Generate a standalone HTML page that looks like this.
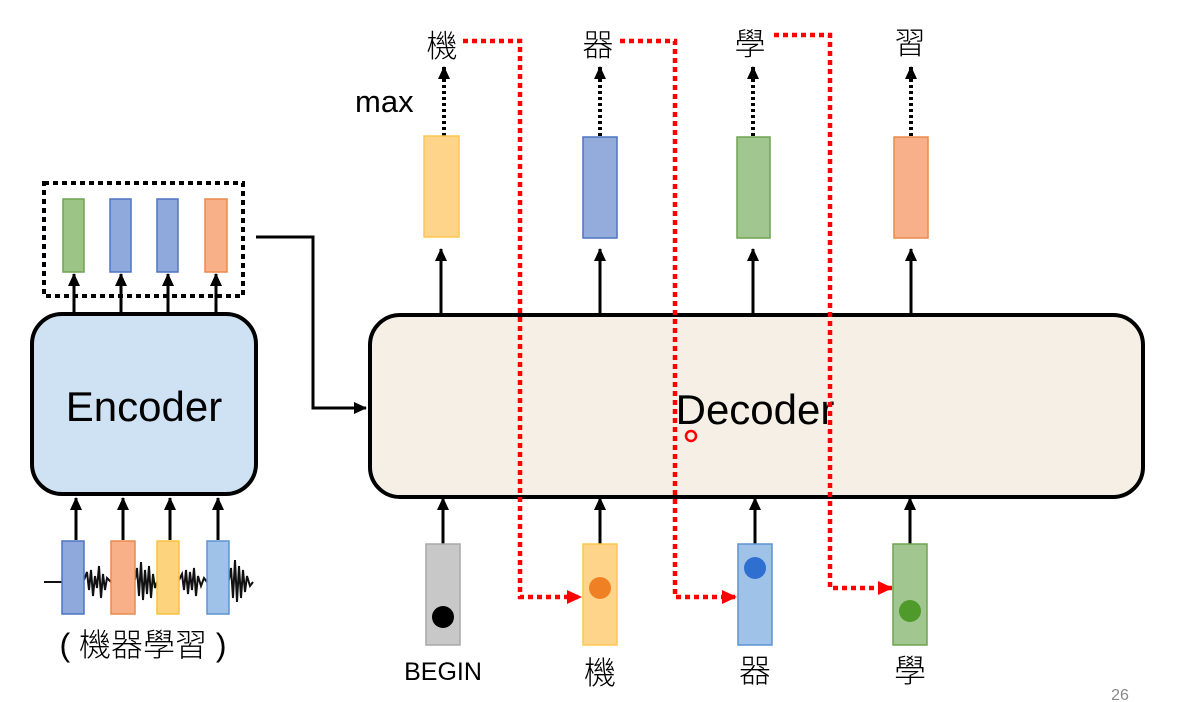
<!DOCTYPE html>
<html><head><meta charset="utf-8"><style>
html,body{margin:0;padding:0;background:#fff;}
svg{display:block;}
text{font-family:"Liberation Sans","Noto Sans CJK TC",sans-serif;}
</style></head><body>
<svg width="1177" height="702" viewBox="0 0 1177 702" xmlns="http://www.w3.org/2000/svg">
<defs>
<marker id="ab" markerWidth="14" markerHeight="14" refX="12" refY="7" orient="auto" markerUnits="userSpaceOnUse"><path d="M0,1 L13,7 L0,13 z" fill="#000"/></marker>
<marker id="ar" markerWidth="16" markerHeight="16" refX="14" refY="8" orient="auto" markerUnits="userSpaceOnUse"><path d="M0,1 L15,8 L0,15 z" fill="#f00"/></marker>
</defs>
<rect width="1177" height="702" fill="#fff"/>

<!-- Encoder -->
<rect x="44" y="183" width="199" height="113" fill="none" stroke="#000" stroke-width="4" stroke-dasharray="5,4"/>
<rect x="63" y="199" width="21" height="73" fill="#9cc487" stroke="#6fa352" stroke-width="1.5"/>
<rect x="110" y="199" width="21" height="73" fill="#8fa9dc" stroke="#4f74c0" stroke-width="1.5"/>
<rect x="157" y="199" width="21" height="73" fill="#8fa9dc" stroke="#4f74c0" stroke-width="1.5"/>
<rect x="205" y="199" width="22" height="73" fill="#f7b088" stroke="#ea8a4f" stroke-width="1.5"/>
<g stroke="#000" stroke-width="3" marker-end="url(#ab)">
<line x1="74" y1="314" x2="74" y2="274"/><line x1="121" y1="314" x2="121" y2="274"/>
<line x1="168" y1="314" x2="168" y2="274"/><line x1="216" y1="314" x2="216" y2="274"/>
<line x1="76" y1="540" x2="76" y2="498"/><line x1="123" y1="540" x2="123" y2="498"/>
<line x1="170" y1="540" x2="170" y2="498"/><line x1="218" y1="540" x2="218" y2="498"/>
</g>
<rect x="32" y="314" width="224" height="180" rx="30" fill="#cfe2f3" stroke="#000" stroke-width="4"/>
<text x="144" y="421" font-size="42" text-anchor="middle">Encoder</text>
<path d="M44,582 L62,582 M84,580 L87,572 L89,590 L91,570 L93,596 L95,576 L97,588 L99,566 L101,598 L103,574 L105,590 L107,578 L111,582 M135,580 L137,568 L139,596 L141,562 L143,600 L145,570 L147,594 L149,566 L151,598 L153,574 L155,588 L157,582 M179,580 L182,574 L184,590 L186,570 L188,594 L190,572 L192,590 L194,568 L196,596 L198,576 L201,586 L204,578 L207,582 M229,580 L231,568 L233,598 L235,560 L237,602 L239,566 L241,598 L243,570 L245,592 L247,576 L250,586 L253,582" stroke="#111" stroke-width="2" fill="none"/>
<rect x="62" y="541" width="22" height="73" fill="#8fa9dc" stroke="#4f74c0" stroke-width="1.5"/>
<rect x="111" y="541" width="24" height="73" fill="#f7b088" stroke="#ea8a4f" stroke-width="1.5"/>
<rect x="157" y="541" width="22" height="73" fill="#fdd37e" stroke="#f5c242" stroke-width="1.5"/>
<rect x="207" y="541" width="22" height="73" fill="#9fc2e8" stroke="#5e93cf" stroke-width="1.5"/>
<text x="143" y="656" font-size="32" text-anchor="middle" font-weight="300">( 機器學習 )</text>

<!-- connector -->
<path d="M256,237 L313,237 L313,408 L366,408" stroke="#000" stroke-width="3" fill="none" marker-end="url(#ab)"/>

<!-- Decoder -->
<rect x="370" y="315" width="773" height="182" rx="30" fill="#f5efe6" stroke="#000" stroke-width="4"/>
<text x="755" y="424" font-size="42" text-anchor="middle">Decoder</text>

<!-- top outputs -->
<g stroke="#000" stroke-width="3" marker-end="url(#ab)">
<line x1="441" y1="315" x2="441" y2="249"/><line x1="600" y1="315" x2="600" y2="249"/>
<line x1="753" y1="315" x2="753" y2="249"/><line x1="911" y1="315" x2="911" y2="249"/>
</g>
<g stroke="#000" stroke-width="4" stroke-dasharray="3,3" marker-end="url(#ab)">
<line x1="444" y1="136" x2="444" y2="67"/><line x1="600" y1="136" x2="600" y2="67"/>
<line x1="753" y1="136" x2="753" y2="67"/><line x1="911" y1="136" x2="911" y2="67"/>
</g>
<rect x="424" y="136" width="35" height="101" fill="#fdd48a" stroke="#fbc74f" stroke-width="1.5"/>
<rect x="583" y="137" width="34" height="101" fill="#94acdc" stroke="#4f74c0" stroke-width="1.5"/>
<rect x="737" y="137" width="33" height="101" fill="#a2c690" stroke="#6fa352" stroke-width="1.5"/>
<rect x="894" y="137" width="34" height="101" fill="#f7b08a" stroke="#ea8a4f" stroke-width="1.5"/>
<text x="355" y="112" font-size="31">max</text>
<g font-size="31" text-anchor="middle" font-weight="300">
<text x="442" y="57">機</text><text x="598" y="56">器</text>
<text x="750" y="55">學</text><text x="910" y="54">習</text>
</g>

<!-- red dotted -->
<g stroke="#f00" stroke-width="4.5" stroke-dasharray="5,4" fill="none" marker-end="url(#ar)">
<path d="M463,41 L520,41 L520,597 L581,597"/>
<path d="M620,41 L675,41 L675,597 L736,597"/>
<path d="M774,35 L830,35 L830,588 L892,588"/>
</g>

<!-- bottom inputs -->
<g stroke="#000" stroke-width="3" marker-end="url(#ab)">
<line x1="443" y1="544" x2="443" y2="498"/><line x1="600" y1="544" x2="600" y2="498"/>
<line x1="755" y1="544" x2="755" y2="498"/><line x1="910" y1="544" x2="910" y2="498"/>
</g>
<rect x="426" y="544" width="34" height="101" fill="#c8c8c8" stroke="#a8a8a8" stroke-width="1.5"/>
<circle cx="443" cy="617" r="11" fill="#000"/>
<rect x="583" y="544" width="34" height="101" fill="#fdd48a" stroke="#fbc74f" stroke-width="1.5"/>
<circle cx="600" cy="588" r="11" fill="#f08024"/>
<rect x="738" y="544" width="34" height="101" fill="#9fc2e8" stroke="#5e93cf" stroke-width="1.5"/>
<circle cx="755" cy="568" r="11" fill="#2f6fd0"/>
<rect x="893" y="544" width="34" height="101" fill="#a2c690" stroke="#6fa352" stroke-width="1.5"/>
<circle cx="910" cy="611" r="11" fill="#4e9a2a"/>
<text x="443" y="680" font-size="25" text-anchor="middle">BEGIN</text>
<g font-size="32" text-anchor="middle" font-weight="300">
<text x="600" y="684">機</text><text x="755" y="682">器</text><text x="910" y="682">學</text>
</g>
<circle cx="691" cy="436" r="5" fill="none" stroke="#f00" stroke-width="2.5"/>
<text x="1120" y="700" font-size="16" fill="#888" text-anchor="middle">26</text>
</svg>
</body></html>
